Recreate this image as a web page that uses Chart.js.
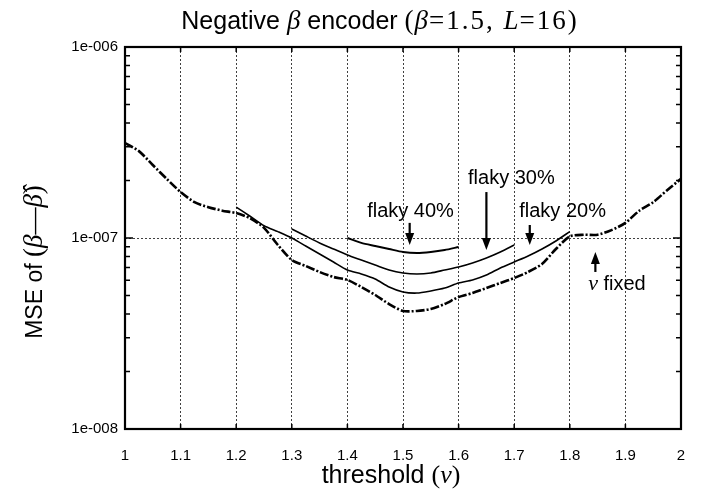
<!DOCTYPE html>
<html><head><meta charset="utf-8">
<script src="https://cdn.jsdelivr.net/npm/chart.js@4/dist/chart.umd.min.js"></script>
<style>html,body{margin:0;padding:0;background:#fff;}#wrap{width:717px;height:489px;}</style>
</head><body><div id="wrap"><canvas id="c" width="717" height="489"></canvas></div>
<script>
// ---- data ----
const thresholdFixed = [1.00,1.025,1.05,1.075,1.10,1.125,1.15,1.175,1.20,1.225,1.25,1.275,1.30,1.325,1.35,1.375,1.40,1.425,1.45,1.475,1.50,1.525,1.55,1.575,1.60,1.625,1.65,1.675,1.70,1.725,1.75,1.775,1.80,1.825,1.85,1.875,1.90,1.925,1.95,1.975,2.00];
const mseFixed = [3.14e-7,2.85e-7,2.41e-7,2.04e-7,1.74e-7,1.54e-7,1.45e-7,1.39e-7,1.35e-7,1.27e-7,1.13e-7,0.919e-7,0.767e-7,0.714e-7,0.664e-7,0.625e-7,0.603e-7,0.554e-7,0.503e-7,0.451e-7,0.415e-7,0.415e-7,0.425e-7,0.451e-7,0.491e-7,0.515e-7,0.547e-7,0.581e-7,0.617e-7,0.664e-7,0.731e-7,0.876e-7,1.02e-7,1.04e-7,1.04e-7,1.10e-7,1.20e-7,1.39e-7,1.54e-7,1.78e-7,2.04e-7];

const thresholdFlaky20 = [1.20,1.225,1.25,1.275,1.30,1.325,1.35,1.375,1.40,1.425,1.45,1.475,1.50,1.525,1.55,1.575,1.60,1.625,1.65,1.675,1.70,1.725,1.75,1.775,1.80];
const mseFlaky20 = [1.45e-7,1.30e-7,1.16e-7,1.08e-7,1.00e-7,0.908e-7,0.825e-7,0.749e-7,0.680e-7,0.648e-7,0.610e-7,0.554e-7,0.522e-7,0.515e-7,0.528e-7,0.547e-7,0.581e-7,0.603e-7,0.640e-7,0.697e-7,0.749e-7,0.805e-7,0.876e-7,0.965e-7,1.08e-7];

const thresholdFlaky30 = [1.30,1.325,1.35,1.375,1.40,1.425,1.45,1.475,1.50,1.525,1.55,1.575,1.60,1.625,1.65,1.675,1.70];
const mseFlaky30 = [1.115e-7,1.024e-7,0.942e-7,0.876e-7,0.815e-7,0.767e-7,0.722e-7,0.680e-7,0.656e-7,0.648e-7,0.656e-7,0.680e-7,0.705e-7,0.740e-7,0.786e-7,0.845e-7,0.919e-7];

const thresholdFlaky40 = [1.40,1.425,1.45,1.475,1.50,1.525,1.55,1.575,1.60];
const mseFlaky40 = [1.00e-7,0.942e-7,0.908e-7,0.876e-7,0.845e-7,0.835e-7,0.845e-7,0.865e-7,0.897e-7];

const xTickValues = [1,1.1,1.2,1.3,1.4,1.5,1.6,1.7,1.8,1.9,2];
const yTickValues = [1e-8,1e-7,1e-6];
const yTickLabels = ['1e-008','1e-007','1e-006'];

// ---- helpers ----
const SANS = '"Liberation Sans", Arial, sans-serif';
const SERIF = '"Liberation Serif", "Times New Roman", serif';
function pts(xs, ys){ return xs.map((x,i)=>({x:x, y:ys[i]})); }

function drawRich(ctx, segs, x, y, align){
  let w = 0;
  segs.forEach(s=>{ ctx.font = s.f; ctx.letterSpacing = s.ls || '0px'; w += ctx.measureText(s.t).width; });
  let cx = align==='center' ? x - w/2 : x;
  ctx.textAlign = 'left';
  ctx.textBaseline = 'alphabetic';
  segs.forEach(s=>{ ctx.font = s.f; ctx.letterSpacing = s.ls || '0px'; ctx.fillText(s.t, cx, y); cx += ctx.measureText(s.t).width; });
  ctx.letterSpacing = '0px';
}

const annotations = {
  texts: [
    {segs:[{t:'flaky 40%', f:'20px '+SANS}], x:1.5135, y:1.40e-7, align:'center'},
    {segs:[{t:'flaky 30%', f:'20px '+SANS}], x:1.695, y:2.09e-7, align:'center'},
    {segs:[{t:'flaky 20%', f:'20px '+SANS}], x:1.787, y:1.40e-7, align:'center'},
    {segs:[{t:'ν', f:'italic 22px '+SERIF},{t:' fixed', f:'20px '+SANS}], x:1.833, y:0.581e-7, align:'left'}
  ],
  arrows: [
    {x:1.512, from:1.20e-7, to:0.919e-7},
    {x:1.650, from:1.74e-7, to:0.865e-7},
    {x:1.728, from:1.17e-7, to:0.919e-7},
    {x:1.846, from:0.664e-7, to:0.845e-7}
  ]
};

const framePlugin = {
  id:'frame',
  afterDatasetsDraw(chart){
    const ctx = chart.ctx, a = chart.chartArea, xs = chart.scales.x, ys = chart.scales.y;
    ctx.save();
    ctx.strokeStyle = '#000';
    ctx.lineWidth = 1.5;
    ctx.beginPath();
    xTickValues.forEach(v=>{
      const px = xs.getPixelForValue(v);
      ctx.moveTo(px, a.top); ctx.lineTo(px, a.top+5);
      ctx.moveTo(px, a.bottom); ctx.lineTo(px, a.bottom-5);
    });
    [1e-8,1e-7].forEach(d=>{
      for(let m=1;m<=9;m++){
        const py = ys.getPixelForValue(m*d);
        const L = m===1 ? 8 : 5;
        ctx.moveTo(a.left, py); ctx.lineTo(a.left+L, py);
        ctx.moveTo(a.right, py); ctx.lineTo(a.right-L, py);
      }
    });
    ctx.stroke();
    ctx.lineWidth = 2.2;
    ctx.strokeRect(a.left, a.top, a.right-a.left, a.bottom-a.top);

    ctx.fillStyle = '#000';
    annotations.texts.forEach(t=>{
      const px = xs.getPixelForValue(t.x), py = ys.getPixelForValue(t.y);
      drawRich(ctx, t.segs, px, py+7, t.align);
    });
    annotations.arrows.forEach(ar=>{
      const px = xs.getPixelForValue(ar.x);
      const y1 = ys.getPixelForValue(ar.from), y2 = ys.getPixelForValue(ar.to);
      const dir = y2 > y1 ? 1 : -1;
      ctx.lineWidth = 2.2;
      ctx.beginPath(); ctx.moveTo(px, y1); ctx.lineTo(px, y2 - dir*8); ctx.stroke();
      ctx.beginPath(); ctx.moveTo(px, y2); ctx.lineTo(px-4.5, y2-dir*12); ctx.lineTo(px+4.5, y2-dir*12); ctx.closePath(); ctx.fill();
    });

    // title
    drawRich(ctx, [
      {t:'Negative ', f:'25px '+SANS},
      {t:'β', f:'italic 27px '+SERIF},
      {t:' encoder ', f:'25px '+SANS},
      {t:'(', f:'27px '+SERIF, ls:'1px'},
      {t:'β', f:'italic 27px '+SERIF, ls:'1px'},
      {t:'=1.5, ', f:'27px '+SERIF, ls:'2px'},
      {t:'L', f:'italic 27px '+SERIF, ls:'1px'},
      {t:'=16)', f:'27px '+SERIF, ls:'2px'}
    ], 380, 29, 'center');
    // x title
    drawRich(ctx, [
      {t:'threshold ', f:'25px '+SANS},
      {t:'(', f:'26px '+SERIF},
      {t:'ν', f:'italic 26px '+SERIF},
      {t:')', f:'26px '+SERIF}
    ], 391, 483, 'center');
    // y title
    ctx.save();
    ctx.translate(42, 262);
    ctx.rotate(-Math.PI/2);
    drawRich(ctx, [
      {t:'MSE of ', f:'23px '+SANS},
      {t:'(', f:'27px '+SERIF},
      {t:'β', f:'italic 27px '+SERIF},
      {t:'—', f:'27px '+SERIF},
      {t:'β\u0302', f:'italic 27px '+SERIF},
      {t:')', f:'27px '+SERIF}
    ], 0, 0, 'center');
    ctx.restore();
    ctx.restore();
  }
};

const lineBase = {borderColor:'#000', pointRadius:0, fill:false, tension:0.25, parsing:false};

new Chart(document.getElementById('c').getContext('2d'), {
  type:'line',
  data:{datasets:[
    Object.assign({label:'ν fixed', data:pts(thresholdFixed, mseFixed), borderWidth:2.6, borderDash:[9,2,2,2]}, lineBase),
    Object.assign({label:'flaky 20%', data:pts(thresholdFlaky20, mseFlaky20), borderWidth:1.6}, lineBase),
    Object.assign({label:'flaky 30%', data:pts(thresholdFlaky30, mseFlaky30), borderWidth:1.6}, lineBase),
    Object.assign({label:'flaky 40%', data:pts(thresholdFlaky40, mseFlaky40), borderWidth:1.9}, lineBase)
  ]},
  options:{
    responsive:false, animation:false, devicePixelRatio:1,
    layout:{padding:{left:0, right:36, top:47, bottom:0}},
    plugins:{legend:{display:false}, title:{display:false}, tooltip:{enabled:false}},
    scales:{
      x:{type:'linear', min:1, max:2,
        afterBuildTicks(s){ s.ticks = xTickValues.map(v=>({value:v})); },
        afterFit(s){ s.height = 60; },
        ticks:{color:'#000', font:{family:SANS, size:15}, padding:18, maxRotation:0, autoSkip:false,
          callback(v){ return String(Math.round(v*10)/10); }},
        grid:{drawTicks:false, color(c){ const v=c.tick&&c.tick.value; return (v>1.01&&v<1.99)?'rgba(0,0,0,0.75)':'rgba(0,0,0,0)'; }, lineWidth:1},
        border:{display:false, dash:[2,2]}
      },
      y:{type:'logarithmic', min:1e-8, max:1e-6,
        afterBuildTicks(s){ s.ticks = yTickValues.map(v=>({value:v})); },
        afterFit(s){ s.width = 125; },
        ticks:{color:'#000', font:{family:SANS, size:15}, padding:7,
          callback(v){ const i = yTickValues.findIndex(t=>Math.abs(t-v)/t<1e-6); return i>=0 ? yTickLabels[i] : ''; }},
        grid:{drawTicks:false, color(c){ const v=c.tick&&c.tick.value; return (v&&Math.abs(v-1e-7)/1e-7<1e-6)?'rgba(0,0,0,0.75)':'rgba(0,0,0,0)'; }, lineWidth:1},
        border:{display:false, dash:[2,2]}
      }
    }
  },
  plugins:[framePlugin]
});
</script></body></html>
